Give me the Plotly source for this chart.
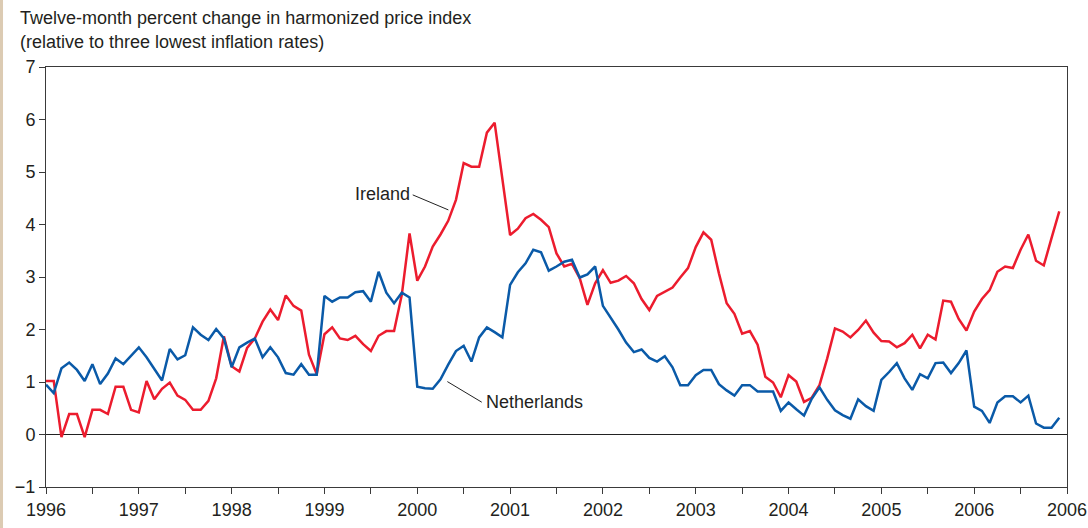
import plotly.graph_objects as go

start_year = 1996
n_months = 132

ireland = [
    1.02, 1.02, -0.05, 0.39, 0.39, -0.05, 0.47, 0.47, 0.39, 0.91, 0.91, 0.47,
    0.42, 1.02, 0.67, 0.87, 0.99, 0.74, 0.66, 0.47, 0.47, 0.64, 1.07, 1.87,
    1.30, 1.20, 1.65, 1.83, 2.15, 2.38, 2.18, 2.65, 2.45, 2.36, 1.52, 1.15,
    1.91, 2.04, 1.83, 1.80, 1.88, 1.72, 1.59, 1.88, 1.97, 1.97, 2.66, 3.83,
    2.93, 3.20, 3.58, 3.81, 4.07, 4.47, 5.17, 5.10, 5.10, 5.75, 5.94, 4.88,
    3.80, 3.92, 4.12, 4.20, 4.09, 3.95, 3.45, 3.20, 3.25, 2.98, 2.47, 2.88,
    3.13, 2.89, 2.93, 3.02, 2.88, 2.58, 2.37, 2.64, 2.72, 2.80, 2.99, 3.17,
    3.57, 3.85, 3.71, 3.07, 2.50, 2.30, 1.92, 1.97, 1.71, 1.10, 0.99, 0.71,
    1.13, 1.01, 0.62, 0.70, 0.94, 1.45, 2.02, 1.96, 1.85, 1.99, 2.17, 1.94,
    1.78, 1.77, 1.66, 1.74, 1.90, 1.64, 1.90, 1.81, 2.55, 2.53, 2.20, 1.98,
    2.34, 2.58, 2.75, 3.10, 3.20, 3.17, 3.52, 3.81, 3.31, 3.22, 3.74, 4.25,
]

netherlands = [
    0.95, 0.79, 1.26, 1.37, 1.23, 1.02, 1.34, 0.96, 1.16, 1.45, 1.34, 1.50,
    1.66, 1.47, 1.25, 1.03, 1.63, 1.43, 1.51, 2.04, 1.90, 1.80, 2.01, 1.83,
    1.28, 1.66, 1.75, 1.83, 1.47, 1.66, 1.47, 1.17, 1.14, 1.34, 1.14, 1.14,
    2.64, 2.53, 2.61, 2.61, 2.71, 2.73, 2.53, 3.10, 2.70, 2.50, 2.70, 2.61,
    0.91, 0.88, 0.87, 1.05, 1.33, 1.59, 1.69, 1.39, 1.85, 2.04, 1.95, 1.85,
    2.85, 3.09, 3.26, 3.52, 3.47, 3.12, 3.20, 3.29, 3.33, 2.99, 3.05, 3.20,
    2.45, 2.23, 2.00, 1.75, 1.57, 1.62, 1.46, 1.39, 1.49, 1.28, 0.94, 0.94,
    1.13, 1.23, 1.23, 0.96, 0.84, 0.74, 0.94, 0.94, 0.82, 0.82, 0.82, 0.45,
    0.61, 0.48, 0.36, 0.68, 0.90, 0.66, 0.46, 0.37, 0.30, 0.67, 0.54, 0.45,
    1.04, 1.19, 1.36, 1.07, 0.85, 1.15, 1.07, 1.36, 1.37, 1.17, 1.36, 1.60,
    0.53, 0.45, 0.22, 0.61, 0.73, 0.73, 0.61, 0.74, 0.21, 0.13, 0.13, 0.32,
]

x_tick_labels = ["1996", "1997", "1998", "1999", "2000", "2001", "2002",
                 "2003", "2004", "2005", "2006", "2006"]
y_ticks = [-1, 0, 1, 2, 3, 4, 5, 6, 7]

title_lines = ["Twelve-month percent change in harmonized price index",
               "(relative to three lowest inflation rates)"]

months = [start_year + i / 12 for i in range(n_months)]

RED = "#ec1c2e"
BLUE = "#0a5aa8"
TXT = "#231f20"
AX = "#3a3a3a"
FONT = "Liberation Sans, Arial, sans-serif"

fig = go.Figure()
fig.add_trace(go.Scatter(x=months, y=ireland, mode="lines", name="Ireland",
                         line=dict(color=RED, width=2.5), hoverinfo="x+y"))
fig.add_trace(go.Scatter(x=months, y=netherlands, mode="lines", name="Netherlands",
                         line=dict(color=BLUE, width=2.5), hoverinfo="x+y"))

# tick positions: yearly labels, half-year unlabeled ticks
tickvals = []
ticktext = []
for i, lab in enumerate(x_tick_labels):
    tickvals.append(start_year + i)
    ticktext.append(lab)
    if i < len(x_tick_labels) - 1:
        tickvals.append(start_year + i + 0.5)
        ticktext.append("")

fig.update_xaxes(
    range=[start_year, start_year + len(x_tick_labels) - 1],
    tickvals=tickvals, ticktext=ticktext, automargin=False,
    ticks="outside", ticklen=6, tickwidth=1, tickcolor=AX,
    showline=True, linecolor=AX, linewidth=1, mirror=True,
    showgrid=False, zeroline=False,
    tickfont=dict(family=FONT, size=18, color=TXT),
)
fig.update_yaxes(
    range=[-1, 7], tickvals=y_ticks, automargin=False,
    ticks="outside", ticklen=6, tickwidth=1, tickcolor=AX,
    showline=True, linecolor=AX, linewidth=1, mirror=True,
    showgrid=False, zeroline=True, zerolinecolor="#222222", zerolinewidth=1,
    tickfont=dict(family=FONT, size=18, color=TXT),
)

annotations = [
    dict(text=title_lines[0], xref="paper", yref="paper", x=-0.0274, y=1.1167,
         xanchor="left", yanchor="middle", showarrow=False,
         font=dict(family=FONT, size=18, color=TXT)),
    dict(text=title_lines[1], xref="paper", yref="paper", x=-0.0274, y=1.0595,
         xanchor="left", yanchor="middle", showarrow=False,
         font=dict(family=FONT, size=18, color=TXT)),
    dict(text="Ireland", xref="x", yref="y", x=1999.94, y=4.583,
         xanchor="right", yanchor="middle", showarrow=False,
         font=dict(family=FONT, size=18, color=TXT)),
    dict(text="Netherlands", xref="x", yref="y", x=2000.72, y=0.627,
         xanchor="left", yanchor="middle", showarrow=False,
         font=dict(family=FONT, size=18, color=TXT)),
]

shapes = [
    dict(type="line", xref="x", yref="y", x0=1999.951, y0=4.564, x1=2000.335, y1=4.278,
         line=dict(color="#222222", width=1)),
    dict(type="line", xref="x", yref="y", x0=2000.324, y0=1.008, x1=2000.695, y1=0.615,
         line=dict(color="#222222", width=1)),
    dict(type="rect", xref="paper", yref="paper", x0=-0.0451, x1=-0.0421, y0=-0.1, y1=1.17,
         fillcolor="#dccbb3", line=dict(width=0), layer="below"),
]

fig.update_layout(
    template="none",
    width=1088, height=528,
    margin=dict(l=46, r=21, t=67, b=41, pad=0),
    paper_bgcolor="white", plot_bgcolor="white",
    showlegend=False,
    annotations=annotations, shapes=shapes,
    font=dict(family=FONT, size=18, color=TXT),
)

fig.write_html("out.html",
               config={"displayModeBar": False},
               post_script="document.body.style.margin='0';document.body.style.overflow='hidden';")
